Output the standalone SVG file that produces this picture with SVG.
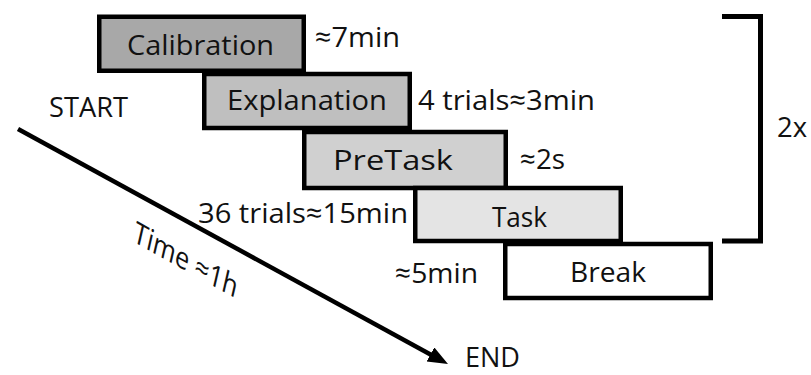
<svg xmlns="http://www.w3.org/2000/svg" width="811" height="375" viewBox="0 0 811 375">
<style>
.box{stroke:#000;stroke-width:4.5;stroke-linejoin:miter}
text{font-family:"Open Sans","Liberation Sans",sans-serif;font-size:28px;fill:#111}
</style>
<defs>
<marker id="ah" markerUnits="userSpaceOnUse" markerWidth="22" markerHeight="18" refX="10" refY="8" orient="auto">
<path d="M0,0 L20,8 L0,16 z" fill="#000"/>
</marker>
</defs>
<rect width="811" height="375" fill="#fff"/>
<g id="connectors">
<line x1="18" y1="129" x2="439.2" y2="359.2" stroke="#000" stroke-width="4.5" marker-end="url(#ah)"/>
<path d="M722,16.5 H760.5 V241 H722" fill="none" stroke="#000" stroke-width="5"/>
</g>
<g id="calibration">
<rect class="box" x="99.25" y="16.75" width="204.5" height="54" fill="#a8a8a8"/>
<text x="127" y="55" textLength="147" lengthAdjust="spacingAndGlyphs">Calibration</text>
</g>
<g id="explanation">
<rect class="box" x="204.25" y="74" width="205.5" height="54" fill="#bfbfbf"/>
<text x="227" y="110" textLength="160" lengthAdjust="spacingAndGlyphs">Explanation</text>
</g>
<g id="pretask">
<rect class="box" x="304.25" y="132" width="201.5" height="56" fill="#d0d0d0"/>
<text x="333" y="170" textLength="120" lengthAdjust="spacingAndGlyphs">PreTask</text>
</g>
<g id="task">
<rect class="box" x="415.25" y="188" width="205.5" height="53" fill="#e4e4e4"/>
<text x="492" y="227" textLength="55" lengthAdjust="spacingAndGlyphs">Task</text>
</g>
<g id="break">
<rect class="box" x="505.25" y="244" width="205.5" height="54" fill="#fff"/>
<text x="570" y="282" textLength="76" lengthAdjust="spacingAndGlyphs">Break</text>
</g>
<g id="labels">
<text x="315" y="47" textLength="85" lengthAdjust="spacingAndGlyphs">≈7min</text>
<text x="49" y="117" textLength="79" lengthAdjust="spacingAndGlyphs">START</text>
<text x="418" y="110" textLength="177" lengthAdjust="spacingAndGlyphs">4 trials≈3min</text>
<text x="520" y="169" textLength="45" lengthAdjust="spacingAndGlyphs">≈2s</text>
<text x="777" y="137" textLength="30" lengthAdjust="spacingAndGlyphs">2x</text>
<text x="198" y="223" textLength="210" lengthAdjust="spacingAndGlyphs">36 trials≈15min</text>
<text x="395" y="283" textLength="83" lengthAdjust="spacingAndGlyphs">≈5min</text>
<text x="465" y="367" textLength="55" lengthAdjust="spacingAndGlyphs">END</text>
<text transform="translate(132,241) rotate(29) skewX(16)" x="0" y="0" textLength="118" lengthAdjust="spacingAndGlyphs">Time ≈1h</text>
</g>
</svg>
